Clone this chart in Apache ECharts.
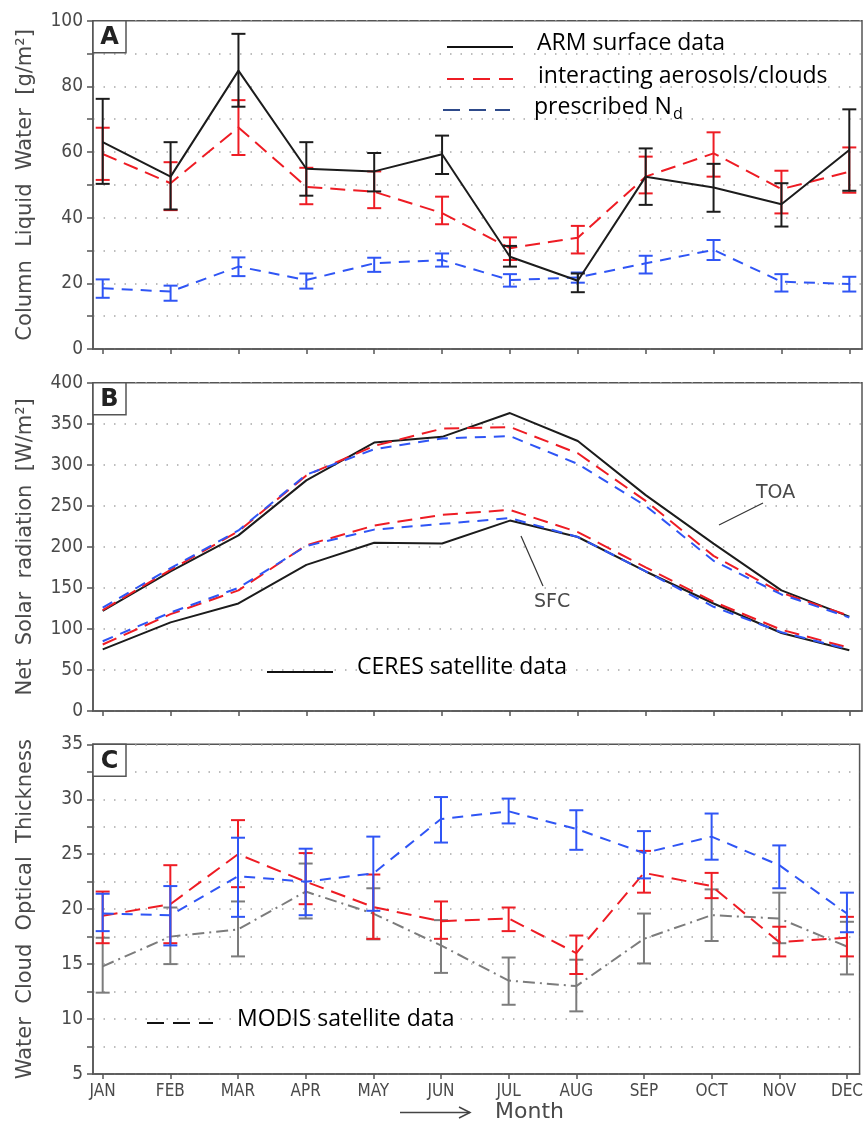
<!DOCTYPE html>
<html><head><meta charset="utf-8">
<script src="https://cdn.jsdelivr.net/npm/echarts@6/dist/echarts.min.js"></script>
<style>html,body{margin:0;padding:0;background:#fff}#c{width:866px;height:1124px}</style>
</head><body><div id="c"></div>
<script>
// ---------- data ----------
const months = ['JAN','FEB','MAR','APR','MAY','JUN','JUL','AUG','SEP','OCT','NOV','DEC'];
const monthPos = [1,2,3,4,5,6,7,8,9,10,11,12];

// Panel A: Column Liquid Water [g/m2]
const armLWP     = [63, 52.5, 84.8, 54.9, 54.1, 59.3, 28.1, 20.8, 52.5, 49.2, 44.1, 60.6];
const armLWPHi   = [76.2, 63, 96, 63, 59.7, 65, 31.4, 23, 61.1, 56.4, 50.5, 73];
const armLWPLo   = [50.3, 42.5, 73.8, 46.7, 48, 53.3, 25.1, 17.3, 43.9, 41.8, 37.3, 48.2];
const intLWP     = [59.4, 50.5, 67.5, 49.4, 47.9, 41.4, 30.7, 33.9, 52.5, 59.6, 48.7, 54];
const intLWPHi   = [67.4, 56.9, 75.8, 55.2, 54.1, 46.4, 34, 37.5, 58.6, 66, 54.3, 61.4];
const intLWPLo   = [51.5, 42.3, 59.1, 44.1, 42.9, 38, 27.1, 29.1, 47.4, 52.5, 41.3, 47.6];
const preLWP     = [18.5, 17.5, 25.1, 21, 26.1, 27.1, 21, 21.8, 26.1, 30.2, 20.5, 19.8];
const preLWPHi   = [21.2, 19.3, 27.9, 23, 27.8, 29.1, 22.8, 23.3, 28.4, 33.2, 22.8, 22];
const preLWPLo   = [15.6, 14.7, 22.2, 18.4, 23.5, 25.1, 19, 20.2, 23, 27.1, 17.5, 17.5];

// Panel B: Net Solar radiation [W/m2]
const ceresTOA = [122, 170, 214, 281, 327, 334, 363, 329, 263, 204, 147, 115];
const intTOA   = [123, 172, 219, 287, 323, 344, 346, 314, 256, 189, 144, 116];
const preTOA   = [126, 174, 220, 288, 319, 332, 335, 301, 250, 183, 142, 114];
const ceresSFC = [75, 108, 131, 178, 205, 204, 232, 212, 170, 131, 95, 74];
const intSFC   = [81, 118, 147, 202, 226, 239, 245, 218, 175, 133, 99, 77];
const preSFC   = [85, 120, 150, 201, 221, 228, 235, 212, 170, 127, 96, 75];

// Panel C: Water Cloud Optical Thickness
const intCOT     = [19.4, 20.45, 25, 22.5, 20.2, 18.9, 19.15, 16, 23.3, 22.1, 17, 17.4];
const intCOTHi   = [21.6, 24, 28.1, 25.1, 23.15, 20.7, 20.15, 17.6, 25.3, 23.3, 18.4, 19.3];
const intCOTLo   = [16.9, 16.9, 22, 20.45, 17.3, 17.3, 18, 14.1, 21.5, 21, 15.7, 15.7];
const preCOT     = [19.6, 19.45, 23, 22.5, 23.25, 28.2, 28.9, 27.3, 25.1, 26.6, 24, 19.6];
const preCOTHi   = [21.4, 22.1, 26.5, 25.5, 26.6, 30.2, 30.06, 29, 27.1, 28.7, 25.8, 21.5];
const preCOTLo   = [18, 16.7, 19.3, 19.45, 19.85, 26.06, 27.8, 25.4, 22.8, 24.5, 21.9, 17.9];
const modisCOT   = [14.8, 17.5, 18.15, 21.6, 19.6, 16.7, 13.5, 13, 17.3, 19.45, 19.15, 16.6];
const modisCOTHi = [17.4, 20.15, 20.7, 24.15, 21.9, 19, 15.6, 15.4, 19.6, 21.8, 21.5, 18.85];
const modisCOTLo = [12.4, 15, 15.7, 19.15, 17.25, 14.2, 11.3, 10.7, 15.06, 17.1, 16.9, 14.06];

// ---------- styling ----------
const AX = '#555';
const TXT = '#4a4a4a';
const BLACK = '#1c1c1c', RED = '#ee1c24', BLUE = '#2f55f5', GRAY = '#7c7c7c';
const tickFont = "'DejaVu Sans Condensed','Liberation Sans Narrow','DejaVu Sans',sans-serif";
const titleFont = "'DejaVu Sans',sans-serif";
const legFont = "'Open Sans',sans-serif";

function xAx(gi, showLabel) {
  return {
    type: 'value', gridIndex: gi, min: 0.857, max: 12.187,
    axisLine: { show: true, lineStyle: { color: AX, width: 1.5 } },
    axisTick: { show: true, customValues: monthPos, length: 5, lineStyle: { color: AX, width: 1.5 } },
    axisLabel: { show: showLabel, customValues: monthPos, margin: 9,
      formatter: v => months[Math.round(v) - 1],
      color: TXT, fontSize: 17, fontFamily: tickFont },
    splitLine: { show: false }
  };
}
function yAx(gi, min, max, interval, labelStep, name) {
  return {
    type: 'value', gridIndex: gi, min, max, interval,
    name, nameLocation: 'middle', nameGap: 57, nameRotate: 90,
    nameTextStyle: { color: TXT, fontSize: 21, fontFamily: titleFont },
    axisLine: { show: true, lineStyle: { color: AX, width: 1.5 } },
    axisTick: { show: true, length: 6, lineStyle: { color: AX, width: 1.5 } },
    axisLabel: { margin: 10, color: TXT, fontSize: 19, fontFamily: tickFont,
      formatter: v => (Math.abs(v / labelStep - Math.round(v / labelStep)) < 1e-6 ? String(v) : '') },
    splitLine: { show: true, lineStyle: { color: '#a8a8a8', width: 1.5, type: [1.5, 9] } }
  };
}
function pts(arr) { return monthPos.map((m, i) => [m, arr[i]]); }
function lineS(gi, arr, color, dash, z) {
  return { type: 'line', xAxisIndex: gi, yAxisIndex: gi, data: pts(arr), symbol: 'none',
    lineStyle: { color, width: 2, type: dash }, z: z || 3, silent: true, animation: false };
}
function errS(gi, lo, hi, color, cap, z) {
  return { type: 'custom', xAxisIndex: gi, yAxisIndex: gi, z: z || 3, silent: true, animation: false,
    data: monthPos.map((m, i) => [m, lo[i], hi[i]]),
    encode: { x: 0, y: [1, 2] },
    renderItem: function (params, api) {
      const x = api.value(0);
      const a = api.coord([x, api.value(1)]);
      const b = api.coord([x, api.value(2)]);
      const st = { stroke: color, lineWidth: 2 };
      return { type: 'group', children: [
        { type: 'line', shape: { x1: a[0], y1: a[1], x2: b[0], y2: b[1] }, style: st },
        { type: 'line', shape: { x1: a[0] - cap, y1: a[1], x2: a[0] + cap, y2: a[1] }, style: st },
        { type: 'line', shape: { x1: b[0] - cap, y1: b[1], x2: b[0] + cap, y2: b[1] }, style: st }
      ] };
    }
  };
}
const DASH_RED = [15, 8];
const DASH_BLUE = [11, 8];
const DASH_GRAY = [12, 5, 2, 5];

function panelBox(x, y, letter) {
  return [
    { type: 'rect', shape: { x: x, y: y, width: 33, height: 32 }, style: { fill: '#fff', stroke: AX, lineWidth: 1.5 }, z: 50 },
    { type: 'text', x: x + 16.5, y: y + 17, style: { text: letter, fill: '#222', font: "bold 24px 'DejaVu Sans',sans-serif", align: 'center', verticalAlign: 'middle' }, z: 51 }
  ];
}
function hline(x1, x2, y, color, dash) {
  return { type: 'line', shape: { x1, y1: y, x2, y2: y }, style: { stroke: color, lineWidth: 2, lineDash: dash || null }, z: 50 };
}
function legText(x, y, text) {
  return { type: 'text', x, y, style: { text, fill: '#000', font: "23px 'Open Sans',sans-serif", verticalAlign: 'middle' }, z: 50 };
}

const option = {
  backgroundColor: '#fff',
  animation: false,
  grid: [
    { left: 93, top: 20.7, width: 769, height: 328.3, show: true, borderColor: AX, borderWidth: 1.5 },
    { left: 93, top: 382.7, width: 769, height: 328.3, show: true, borderColor: AX, borderWidth: 1.5 },
    { left: 93, top: 744.3, width: 769, height: 329.7, show: true, borderColor: AX, borderWidth: 1.5 }
  ],
  xAxis: [xAx(0, false), xAx(1, false), xAx(2, true)],
  yAxis: [
    yAx(0, 0, 100, 10, 20, 'Column  Liquid  Water  [g/m\u00B2]'),
    yAx(1, 0, 400, 50, 50, 'Net  Solar  radiation  [W/m\u00B2]'),
    yAx(2, 5, 35, 2.5, 5, 'Water  Cloud  Optical  Thickness')
  ],
  series: [
    // Panel A
    lineS(0, preLWP, BLUE, DASH_BLUE, 3), errS(0, preLWPLo, preLWPHi, BLUE, 7, 3),
    lineS(0, intLWP, RED, DASH_RED, 4), errS(0, intLWPLo, intLWPHi, RED, 7, 4),
    lineS(0, armLWP, BLACK, 'solid', 5), errS(0, armLWPLo, armLWPHi, BLACK, 7, 5),
    // Panel B
    lineS(1, ceresTOA, BLACK, 'solid', 3), lineS(1, ceresSFC, BLACK, 'solid', 3),
    lineS(1, intTOA, RED, DASH_RED, 4), lineS(1, intSFC, RED, DASH_RED, 4),
    lineS(1, preTOA, BLUE, DASH_BLUE, 5), lineS(1, preSFC, BLUE, DASH_BLUE, 5),
    // Panel C
    lineS(2, modisCOT, GRAY, DASH_GRAY, 3), errS(2, modisCOTLo, modisCOTHi, GRAY, 7, 3),
    lineS(2, intCOT, RED, DASH_RED, 4), errS(2, intCOTLo, intCOTHi, RED, 7, 4),
    lineS(2, preCOT, BLUE, DASH_BLUE, 5), errS(2, preCOTLo, preCOTHi, BLUE, 7, 5)
  ],
  graphic: [
    ...panelBox(93, 20.7, 'A'),
    ...panelBox(93, 382.7, 'B'),
    ...panelBox(93, 744.3, 'C'),
    // legend panel A
    hline(447, 513, 47, '#111', null),
    legText(537, 43, 'ARM surface data'),
    hline(447, 513, 79, RED, [17, 9]),
    legText(538, 76, 'interacting aerosols/clouds'),
    hline(443, 510, 110, '#2e4a8a', [17, 9]),
    { type: 'text', x: 534, y: 107, z: 50, style: {
        text: '{a|prescribed N}{b|d}', verticalAlign: 'middle',
        rich: { a: { fontSize: 23, fontFamily: legFont, fill: '#000' },
                b: { fontSize: 16, fontFamily: legFont, fill: '#000', padding: [14, 0, 0, 1] } } } },
    // panel B legend & annotations
    hline(267, 333, 672, '#111', null),
    legText(357, 667, 'CERES satellite data'),
    { type: 'line', shape: { x1: 763, y1: 503, x2: 719, y2: 525 }, style: { stroke: '#333', lineWidth: 1.2 }, z: 50 },
    { type: 'text', x: 756, y: 493, z: 50, style: { text: 'TOA', fill: TXT, font: "19px 'DejaVu Sans',sans-serif", verticalAlign: 'middle' } },
    { type: 'line', shape: { x1: 521, y1: 536, x2: 543, y2: 586 }, style: { stroke: '#333', lineWidth: 1.2 }, z: 50 },
    { type: 'text', x: 534, y: 602, z: 50, style: { text: 'SFC', fill: TXT, font: "19px 'DejaVu Sans',sans-serif", verticalAlign: 'middle' } },
    // panel C legend
    hline(147, 213, 1023, '#111', [17, 9]),
    legText(237, 1019, 'MODIS satellite data'),
    // Month arrow
    { type: 'line', shape: { x1: 400, y1: 1112.5, x2: 470, y2: 1112.5 }, style: { stroke: '#444', lineWidth: 1.5 }, z: 50 },
    { type: 'polyline', shape: { points: [[459, 1107], [470, 1112.5], [459, 1118]] }, style: { stroke: '#444', lineWidth: 1.5, fill: null }, z: 50 },
    { type: 'text', x: 495, y: 1112, z: 50, style: { text: 'Month', fill: TXT, font: "22px 'DejaVu Sans',sans-serif", verticalAlign: 'middle' } }
  ]
};
const chart = echarts.init(document.getElementById('c'));
chart.setOption(option);
</script></body></html>
